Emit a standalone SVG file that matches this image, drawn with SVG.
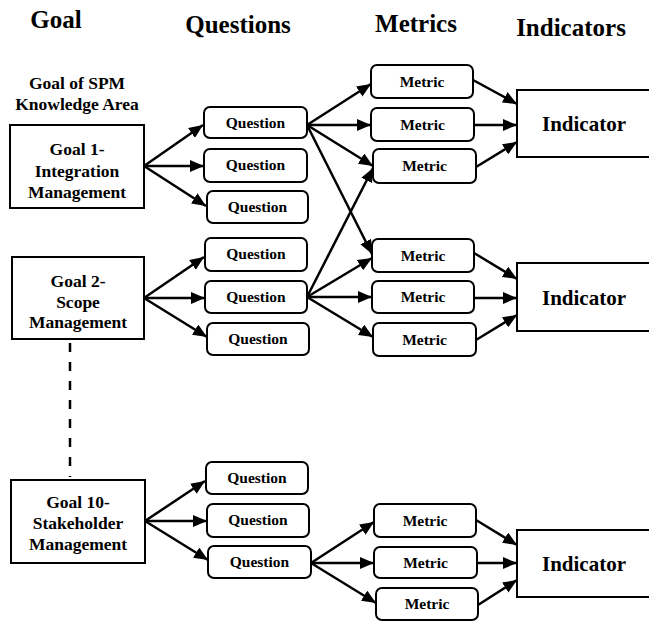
<svg xmlns="http://www.w3.org/2000/svg" width="649" height="621" viewBox="0 0 649 621">
<style>
text{font-family:"Liberation Serif","Times New Roman",serif;font-weight:bold;fill:#000;text-anchor:middle}
.h{font-size:25px}
.g{font-size:17.5px}
.q{font-size:15.5px}
.i{font-size:21px}
.box{fill:#fff;stroke:#000;stroke-width:2}
.rb{fill:#fff;stroke:#000;stroke-width:2}
.c line{stroke:#000;stroke-width:2.5;marker-end:url(#ah)}
</style>
<defs>
<marker id="ah" markerUnits="userSpaceOnUse" markerWidth="14" markerHeight="12" refX="14" refY="6" orient="auto">
<path d="M0,0 L14,6 L0,12 z" fill="#000"/>
</marker>
</defs>
<rect width="649" height="621" fill="#fff"/>
<g id="headers">
<text class="h" x="56" y="28">Goal</text>
<text class="h" x="238" y="33">Questions</text>
<text class="h" x="416" y="32">Metrics</text>
<text class="h" x="571" y="36">Indicators</text>
<text class="g" x="77" y="89">Goal of SPM</text>
<text class="g" x="77" y="110">Knowledge Area</text>
</g>
<g id="dash"><line x1="70" y1="343" x2="70" y2="477" stroke="#000" stroke-width="2.5" stroke-dasharray="9,10"/></g>
<g class="c" id="connectors">
<line x1="144" y1="166" x2="203" y2="125"/>
<line x1="144" y1="166" x2="204" y2="166"/>
<line x1="144" y1="166" x2="206" y2="206"/>
<line x1="144" y1="298" x2="204" y2="257"/>
<line x1="144" y1="298" x2="205" y2="298"/>
<line x1="144" y1="298" x2="207" y2="337"/>
<line x1="145" y1="521" x2="205" y2="481"/>
<line x1="145" y1="521" x2="207" y2="521"/>
<line x1="145" y1="521" x2="208" y2="560"/>
<line x1="307" y1="125" x2="371" y2="84"/>
<line x1="307" y1="125" x2="371" y2="125"/>
<line x1="307" y1="125" x2="373" y2="166"/>
<line x1="307" y1="125" x2="372" y2="254"/>
<line x1="307" y1="297" x2="373" y2="168"/>
<line x1="307" y1="297" x2="372" y2="258"/>
<line x1="307" y1="297" x2="372" y2="297"/>
<line x1="307" y1="297" x2="373" y2="337"/>
<line x1="311" y1="563" x2="374" y2="522"/>
<line x1="311" y1="563" x2="374" y2="563"/>
<line x1="311" y1="563" x2="376" y2="603"/>
<line x1="473" y1="80" x2="517" y2="104"/>
<line x1="474" y1="125" x2="517" y2="125"/>
<line x1="476" y1="167" x2="517" y2="142"/>
<line x1="474" y1="253" x2="517" y2="279"/>
<line x1="474" y1="298" x2="517" y2="298"/>
<line x1="476" y1="340" x2="517" y2="315"/>
<line x1="476" y1="520" x2="517" y2="545"/>
<line x1="477" y1="563" x2="517" y2="563"/>
<line x1="478" y1="605" x2="517" y2="580"/>
</g>
<g id="goal1"><rect class="box" x="10" y="125" width="134" height="83"/><text class="g" x="77" y="155">Goal 1-</text><text class="g" x="77" y="177">Integration</text><text class="g" x="77" y="198">Management</text></g>
<g id="goal2"><rect class="box" x="12" y="257" width="132" height="82"/><text class="g" x="78" y="287">Goal 2-</text><text class="g" x="78" y="308">Scope</text><text class="g" x="78" y="328">Management</text></g>
<g id="goal10"><rect class="box" x="11" y="480" width="134" height="83"/><text class="g" x="78" y="508">Goal 10-</text><text class="g" x="78" y="529">Stakeholder</text><text class="g" x="78" y="550">Management</text></g>
<g id="q1"><rect class="rb" x="204" y="107" width="103" height="31" rx="6"/><text class="q" x="255.5" y="128">Question</text></g>
<g id="q2"><rect class="rb" x="204" y="149" width="103" height="33" rx="6"/><text class="q" x="255.5" y="170">Question</text></g>
<g id="q3"><rect class="rb" x="207" y="191" width="101" height="32" rx="6"/><text class="q" x="257.5" y="212">Question</text></g>
<g id="q4"><rect class="rb" x="205" y="238" width="102" height="33" rx="6"/><text class="q" x="256" y="259">Question</text></g>
<g id="q5"><rect class="rb" x="205" y="281" width="102" height="32" rx="6"/><text class="q" x="256" y="302">Question</text></g>
<g id="q6"><rect class="rb" x="207" y="323" width="102" height="32" rx="6"/><text class="q" x="258" y="344">Question</text></g>
<g id="q7"><rect class="rb" x="206" y="462" width="102" height="32" rx="6"/><text class="q" x="257" y="483">Question</text></g>
<g id="q8"><rect class="rb" x="207" y="504" width="102" height="33" rx="6"/><text class="q" x="258" y="525">Question</text></g>
<g id="q9"><rect class="rb" x="208" y="546" width="103" height="32" rx="6"/><text class="q" x="259.5" y="567">Question</text></g>
<g id="m1"><rect class="rb" x="371" y="65" width="102" height="33" rx="6"/><text class="q" x="422" y="87">Metric</text></g>
<g id="m2"><rect class="rb" x="371" y="108" width="103" height="33" rx="6"/><text class="q" x="422.5" y="130">Metric</text></g>
<g id="m3"><rect class="rb" x="373" y="149" width="103" height="34" rx="6"/><text class="q" x="424.5" y="171">Metric</text></g>
<g id="m4"><rect class="rb" x="372" y="239" width="102" height="33" rx="6"/><text class="q" x="423" y="261">Metric</text></g>
<g id="m5"><rect class="rb" x="372" y="281" width="102" height="32" rx="6"/><text class="q" x="423" y="302">Metric</text></g>
<g id="m6"><rect class="rb" x="373" y="323" width="103" height="33" rx="6"/><text class="q" x="424.5" y="345">Metric</text></g>
<g id="m7"><rect class="rb" x="374" y="504" width="102" height="33" rx="6"/><text class="q" x="425" y="526">Metric</text></g>
<g id="m8"><rect class="rb" x="374" y="547" width="103" height="31" rx="6"/><text class="q" x="425.5" y="568">Metric</text></g>
<g id="m9"><rect class="rb" x="376" y="588" width="102" height="32" rx="6"/><text class="q" x="427" y="609">Metric</text></g>
<g id="ind1"><rect class="box" x="517" y="90" width="140" height="67"/><text class="i" x="584" y="131">Indicator</text></g>
<g id="ind2"><rect class="box" x="517" y="263" width="140" height="68"/><text class="i" x="584" y="305">Indicator</text></g>
<g id="ind3"><rect class="box" x="517" y="530" width="140" height="67"/><text class="i" x="584" y="571">Indicator</text></g>
</svg>
